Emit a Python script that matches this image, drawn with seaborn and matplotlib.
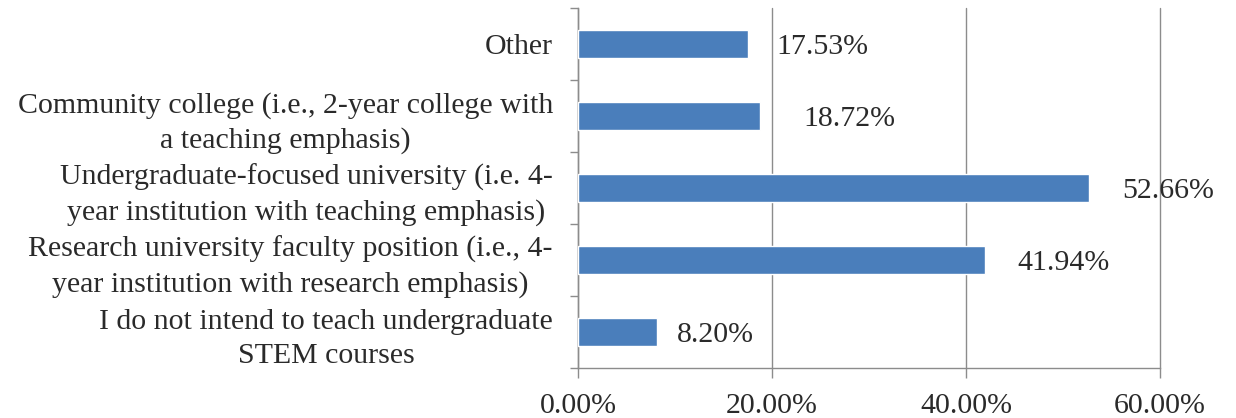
import matplotlib
matplotlib.use("Agg")
import matplotlib.pyplot as plt
import seaborn as sns
import pandas as pd
from matplotlib.ticker import FixedLocator, PercentFormatter
from matplotlib.transforms import offset_copy

categories = [
    "Other",
    "Community college (i.e., 2-year college with\na teaching emphasis)",
    "Undergraduate-focused university (i.e. 4-\nyear institution with teaching emphasis)",
    "Research university faculty position (i.e., 4-\nyear institution with research emphasis)",
    "I do not intend to teach undergraduate\nSTEM courses",
]
percentages = [17.53, 18.72, 52.66, 41.94, 8.20]
value_labels = ["17.53%", "18.72%", "52.66%", "41.94%", "8.20%"]
label_gap_px = [28, 44, 33, 33, 19]
x_ticks = [0, 20, 40, 60]

sns.set_theme(style="white")
plt.rcParams["font.family"] = ["Liberation Serif", "DejaVu Serif"]

df = pd.DataFrame({"category": categories, "pct": percentages})

fig = plt.figure(figsize=(12.36, 4.18), dpi=100)
ax = fig.add_axes([0.4676, 0.12, 0.9385 - 0.4676, 0.861])

sns.barplot(data=df, y="category", x="pct", orient="h", color="#4A7EBB",
            saturation=1, width=0.39, ax=ax, zorder=3)

ax.set_xlim(0, 60)
ax.set_ylim(4.5, -0.5)
ax.xaxis.set_major_locator(FixedLocator(x_ticks))
ax.xaxis.set_major_formatter(PercentFormatter(decimals=2))
ax.grid(axis="x", color="#8c8c8c", linewidth=1.0, zorder=0)
ax.grid(axis="y", visible=False)
for gl in ax.get_xgridlines():
    gl.set_clip_on(False)

for side in ("top", "right"):
    ax.spines[side].set_visible(False)
for side in ("left", "bottom"):
    ax.spines[side].set_color("#8c8c8c")
    ax.spines[side].set_linewidth(1.0)

ax.set_xlabel("")
ax.set_ylabel("")
ax.tick_params(axis="x", which="major", bottom=True, length=7, width=1,
               color="#8c8c8c", labelsize=21.5, pad=11, labelcolor="#2a2a2a")
ax.tick_params(axis="y", which="major", left=False, length=0, pad=18,
               labelsize=21.5, labelcolor="#2a2a2a")
ax.yaxis.set_minor_locator(FixedLocator([-0.5, 0.5, 1.5, 2.5, 3.5, 4.5]))
ax.tick_params(axis="y", which="minor", left=True, length=6, width=1,
               color="#8c8c8c")
for lbl in ax.get_yticklabels():
    lbl.set_multialignment("center")
    lbl.set_linespacing(1.4)

for i, (v, txt, gap) in enumerate(zip(percentages, value_labels, label_gap_px)):
    tr = offset_copy(ax.transData, fig=fig, x=gap, y=-3, units="dots")
    ax.text(v, i, txt, transform=tr, ha="left", va="center",
            fontsize=21.5, color="#2a2a2a", zorder=4)

fig.savefig("out.png", dpi=100, facecolor="white")
